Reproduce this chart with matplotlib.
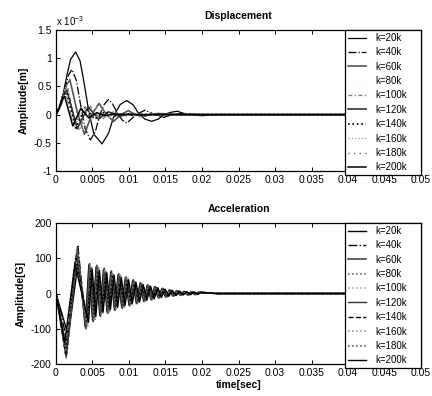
import numpy as np
import matplotlib
matplotlib.use("Agg")
import matplotlib.pyplot as plt
from matplotlib.ticker import FormatStrFormatter

plt.rcParams['font.family'] = ['Liberation Sans', 'DejaVu Sans']
plt.rcParams['axes.unicode_minus'] = False
plt.rcParams['mathtext.fontset'] = 'custom'
plt.rcParams['mathtext.rm'] = 'Liberation Sans'

labels = ["k=20k", "k=40k", "k=60k", "k=80k", "k=100k",
          "k=120k", "k=140k", "k=160k", "k=180k", "k=200k"]

# Displacement (time in s, amplitude in 1e-3 m)
t_d20 = [0, 0.0005, 0.0010, 0.0015, 0.0020, 0.0027, 0.0033, 0.0038, 0.0045, 0.0052, 0.0063,
         0.0072, 0.0080, 0.0088, 0.0097, 0.0106, 0.0114, 0.0122, 0.0131, 0.0140, 0.0148,
         0.0157, 0.0166, 0.018, 0.020, 0.022, 0.05]
d20 = [0, 0.12, 0.38, 0.70, 0.98, 1.11, 0.95, 0.60, 0.05, -0.35, -0.52,
       -0.33, 0.0, 0.18, 0.25, 0.17, 0.0, -0.08, -0.12, -0.08, 0.0,
       0.04, 0.06, 0.0, -0.02, 0.0, 0.0]
t_d40 = [0, 0.0006, 0.0012, 0.0017, 0.0022, 0.0028, 0.0034, 0.0040, 0.0047, 0.0054, 0.0060,
         0.0066, 0.0072, 0.0078, 0.0085, 0.0091, 0.0097, 0.0110, 0.0122, 0.0135, 0.0147,
         0.0160, 0.0172, 0.020, 0.05]
d40 = [0, 0.15, 0.45, 0.70, 0.80, 0.60, 0.15, -0.25, -0.45, -0.30, 0.0,
       0.18, 0.27, 0.18, 0.0, -0.10, -0.15, 0.0, 0.08, 0.0, -0.05,
       0.0, 0.02, 0.0, 0.0]
t_d60 = [0, 0.0008, 0.0014, 0.0019, 0.0029, 0.0039, 0.0049, 0.0059, 0.0069, 0.0079, 0.0089,
         0.0099, 0.0109, 0.0119, 0.0129, 0.0139, 0.017, 0.05]
d60 = [0, 0.20, 0.50, 0.62, 0.05, -0.35, 0.0, 0.20, 0.0, -0.12, 0.0,
       0.07, 0.0, -0.04, 0.0, 0.02, 0.0, 0.0]
t_d80 = [0, 0.0007, 0.0012, 0.0017, 0.0026, 0.0035, 0.0043, 0.0052, 0.0061, 0.0070, 0.0078,
         0.0087, 0.0096, 0.0105, 0.0113, 0.0122, 0.015, 0.05]
d80 = [0, 0.20, 0.45, 0.55, 0.0, -0.30, 0.0, 0.17, 0.0, -0.10, 0.0,
       0.06, 0.0, -0.035, 0.0, 0.02, 0.0, 0.0]
t_d100 = [0, 0.0006, 0.0011, 0.0016, 0.0024, 0.0032, 0.0040, 0.0047, 0.0055, 0.0063, 0.0071,
          0.0079, 0.0087, 0.0094, 0.0110, 0.014, 0.05]
d100 = [0, 0.18, 0.40, 0.48, 0.0, -0.28, 0.0, 0.15, 0.0, -0.09, 0.0,
        0.05, 0.0, -0.03, 0.015, 0.0, 0.0]
t_d120 = [0, 0.0005, 0.0010, 0.0015, 0.0029, 0.0044, 0.0058, 0.0072, 0.0087, 0.0101, 0.0115,
          0.013, 0.05]
d120 = [0, 0.15, 0.35, 0.43, -0.25, 0.14, -0.08, 0.05, -0.03, 0.015, -0.01, 0.0, 0.0]
t_d140 = [0, 0.0005, 0.0009, 0.0014, 0.0027, 0.0040, 0.0053, 0.0067, 0.0080, 0.0093, 0.0106,
          0.012, 0.05]
d140 = [0, 0.14, 0.33, 0.40, -0.24, 0.13, -0.08, 0.05, -0.03, 0.02, -0.01, 0.0, 0.0]
t_d160 = [0, 0.0004, 0.0009, 0.0013, 0.0025, 0.0038, 0.0050, 0.0063, 0.0075, 0.0087, 0.011, 0.05]
d160 = [0, 0.12, 0.30, 0.37, -0.22, 0.12, -0.07, 0.04, -0.025, 0.015, 0.0, 0.0]
t_d180 = [0, 0.0004, 0.0009, 0.0013, 0.0025, 0.0036, 0.0048, 0.0060, 0.0071, 0.0083, 0.010, 0.05]
d180 = [0, 0.11, 0.28, 0.34, -0.21, 0.12, -0.07, 0.04, -0.02, 0.01, 0.0, 0.0]
t_d200 = [0, 0.0004, 0.0008, 0.0012, 0.0023, 0.0034, 0.0045, 0.0056, 0.0067, 0.0078, 0.010, 0.05]
d200 = [0, 0.10, 0.26, 0.32, -0.20, 0.11, -0.06, 0.035, -0.02, 0.01, 0.0, 0.0]

# Acceleration (time in ms, amplitude in G)
t_a20 = [0, 1.7, 3.1, 4.0, 4.5, 5.0, 5.5, 6.0, 6.5, 7.0, 7.5, 8.0, 8.5, 9.0, 9.5, 10.0, 10.5,
         11.0, 11.5, 12.0, 12.5, 13.0, 13.5, 14.0, 14.5, 15.0, 15.5, 16.0, 16.5, 17.0, 17.5,
         18.0, 18.5, 19.0, 19.5, 22, 50]
a20 = [0, -120, 100, -95, 81, -76, 76, -62, 68, -53, 61, -46, 53, -40, 45, -33, 37, -28, 29,
       -22, 24, -17, 19, -12, 14, -10, 10, -7, 8, -5, 6, -4, 5, -3, 4, 0, 0]
t_a40 = [0, 1.6, 3.0, 4.05, 4.55, 5.05, 5.55, 6.05, 6.55, 7.05, 7.55, 8.05, 8.55, 9.05, 9.55,
         10.05, 10.55, 11.05, 11.55, 12.05, 12.55, 13.05, 13.55, 14.05, 14.55, 15.05, 15.55,
         16.05, 16.55, 17.05, 17.55, 18.05, 18.55, 19.05, 19.55, 22, 50]
a40 = [0, -140, 134, -80, 68, -64, 64, -52, 58, -45, 51, -38, 45, -34, 38, -28, 31, -23, 25,
       -18, 20, -14, 16, -10, 12, -8, 9, -6, 6, -4, 5, -3, 4, -2, 3, 0, 0]
t_a60 = [0, 1.5, 2.9, 4.1, 4.6, 5.1, 5.6, 6.1, 6.6, 7.1, 7.6, 8.1, 8.6, 9.1, 9.6, 10.1, 10.6,
         11.1, 11.6, 12.1, 12.6, 13.1, 13.6, 14.1, 14.6, 15.1, 15.6, 16.1, 16.6, 17.1, 17.6,
         18.1, 18.6, 19.1, 19.6, 22, 50]
a60 = [0, -160, 125, -100, 85, -80, 80, -65, 72, -56, 64, -48, 56, -42, 47, -35, 39, -29, 31,
       -23, 25, -18, 20, -13, 15, -10, 11, -7, 8, -5, 6, -4, 5, -3, 4, 0, 0]
t_a80 = [0, 1.5, 2.9, 4.15, 4.65, 5.15, 5.65, 6.15, 6.65, 7.15, 7.65, 8.15, 8.65, 9.15, 9.65,
         10.15, 10.65, 11.15, 11.65, 12.15, 12.65, 13.15, 13.65, 14.15, 14.65, 15.15, 15.65,
         16.15, 16.65, 17.15, 17.65, 18.15, 18.65, 19.15, 19.65, 22, 50]
a80 = [0, -175, 130, -70, 60, -56, 56, -46, 50, -39, 45, -34, 39, -29, 33, -25, 27, -20, 22,
       -16, 18, -13, 14, -9, 11, -7, 8, -5, 6, -4, 4, -3, 4, -2, 3, 0, 0]
t_a100 = [0, 1.4, 2.8, 4.2, 4.7, 5.2, 5.7, 6.2, 6.7, 7.2, 7.7, 8.2, 8.7, 9.2, 9.7, 10.2, 10.7,
          11.2, 11.7, 12.2, 12.7, 13.2, 13.7, 14.2, 14.7, 15.2, 15.7, 16.2, 16.7, 17.2, 17.7,
          18.2, 18.7, 19.2, 19.7, 22, 50]
a100 = [0, -186, 120, -90, 77, -72, 72, -59, 65, -50, 58, -43, 50, -38, 42, -32, 35, -26, 28,
        -21, 23, -16, 18, -12, 14, -9, 10, -6, 7, -5, 5, -4, 5, -3, 4, 0, 0]
t_a120 = [0, 1.4, 2.8, 4.25, 4.75, 5.25, 5.75, 6.25, 6.75, 7.25, 7.75, 8.25, 8.75, 9.25, 9.75,
          10.25, 10.75, 11.25, 11.75, 12.25, 12.75, 13.25, 13.75, 14.25, 14.75, 15.25, 15.75,
          16.25, 16.75, 17.25, 17.75, 18.25, 18.75, 19.25, 19.75, 22, 50]
a120 = [0, -180, 110, -85, 72, -68, 68, -55, 61, -48, 54, -41, 48, -36, 40, -30, 33, -25, 26,
        -20, 21, -15, 17, -11, 13, -9, 9, -6, 7, -4, 5, -3, 4, -3, 3, 0, 0]
t_a140 = [0, 1.3, 2.7, 4.3, 4.8, 5.3, 5.8, 6.3, 6.8, 7.3, 7.8, 8.3, 8.8, 9.3, 9.8, 10.3, 10.8,
          11.3, 11.8, 12.3, 12.8, 13.3, 13.8, 14.3, 14.8, 15.3, 15.8, 16.3, 16.8, 17.3, 17.8,
          18.3, 18.8, 19.3, 19.8, 22, 50]
a140 = [0, -170, 100, -75, 64, -60, 60, -49, 54, -42, 48, -36, 42, -32, 35, -26, 29, -22, 23,
        -17, 19, -14, 15, -10, 11, -8, 8, -5, 6, -4, 5, -3, 4, -2, 3, 0, 0]
t_a160 = [0, 1.3, 2.7, 4.35, 4.85, 5.35, 5.85, 6.35, 6.85, 7.35, 7.85, 8.35, 8.85, 9.35, 9.85,
          10.35, 10.85, 11.35, 11.85, 12.35, 12.85, 13.35, 13.85, 14.35, 14.85, 15.35, 15.85,
          16.35, 16.85, 17.35, 17.85, 18.35, 18.85, 19.35, 19.85, 22, 50]
a160 = [0, -160, 95, -92, 78, -74, 74, -60, 66, -52, 59, -44, 52, -39, 43, -32, 36, -27, 29,
        -21, 23, -17, 18, -12, 14, -9, 10, -6, 7, -5, 6, -4, 5, -3, 4, 0, 0]
t_a180 = [0, 1.2, 2.6, 4.4, 4.9, 5.4, 5.9, 6.4, 6.9, 7.4, 7.9, 8.4, 8.9, 9.4, 9.9, 10.4, 10.9,
          11.4, 11.9, 12.4, 12.9, 13.4, 13.9, 14.4, 14.9, 15.4, 15.9, 16.4, 16.9, 17.4, 17.9,
          18.4, 18.9, 19.4, 19.9, 22, 50]
a180 = [0, -150, 90, -78, 66, -62, 62, -51, 56, -44, 50, -37, 44, -33, 37, -27, 30, -23, 24,
        -18, 20, -14, 16, -10, 12, -8, 9, -5, 6, -4, 5, -3, 4, -2, 3, 0, 0]
t_a200 = [0, 1.2, 2.6, 4.45, 4.95, 5.45, 5.95, 6.45, 6.95, 7.45, 7.95, 8.45, 8.95, 9.45, 9.95,
          10.45, 10.95, 11.45, 11.95, 12.45, 12.95, 13.45, 13.95, 14.45, 14.95, 15.45, 15.95,
          16.45, 16.95, 17.45, 17.95, 18.45, 18.95, 19.45, 19.95, 22, 50]
a200 = [0, -140, 85, -82, 70, -66, 66, -53, 59, -46, 52, -39, 46, -34, 39, -29, 32, -24, 25,
        -19, 21, -15, 16, -11, 12, -8, 9, -6, 7, -4, 5, -3, 4, -2, 3, 0, 0]

disp_series = [(t_d20, d20), (t_d40, d40), (t_d60, d60), (t_d80, d80), (t_d100, d100),
               (t_d120, d120), (t_d140, d140), (t_d160, d160), (t_d180, d180), (t_d200, d200)]
acc_series = [(t_a20, a20), (t_a40, a40), (t_a60, a60), (t_a80, a80), (t_a100, a100),
              (t_a120, a120), (t_a140, a140), (t_a160, a160), (t_a180, a180), (t_a200, a200)]

# line styles (style, colour, width) - greyscale like the scanned original
disp_styles = [('-', 'black', 0.9), ('-.', 'black', 0.9), ('-', '#555555', 1.2),
               (':', '#f4f4f4', 0.7), ((0, (3, 2, 1, 2)), '#777777', 0.9), ('-', '#333333', 1.2),
               (':', 'black', 1.2), (':', '#999999', 0.9), ((0, (1, 3)), '#666666', 1.0),
               ('-', 'black', 1.1)]
acc_styles = [('-', 'black', 1.0), ('-.', 'black', 1.0), ('-', '#444444', 1.2),
              (':', '#555555', 1.1), (':', '#999999', 1.1), ('-', '#333333', 1.0),
              ('--', 'black', 1.0), (':', '#888888', 1.1), (':', '#444444', 1.1),
              ('-', 'black', 1.0)]


def style_axes(ax):
    ax.set_xlim(0, 0.05)
    ax.set_xticks([0, 0.005, 0.01, 0.015, 0.02, 0.025, 0.03, 0.035, 0.04, 0.045, 0.05])
    ax.xaxis.set_major_formatter(FormatStrFormatter('%g'))
    ax.yaxis.set_major_formatter(FormatStrFormatter('%g'))
    ax.tick_params(direction='in', top=True, right=True, length=3, width=0.7, labelsize=7.5,
                   pad=3)
    for sp in ax.spines.values():
        sp.set_linewidth(0.9)


def add_legend(ax):
    leg = ax.legend(loc='upper right', bbox_to_anchor=(0.792, 0.0, 0.208, 1.0), mode='expand',
                    borderaxespad=0, fontsize=7, labelspacing=0.45, handlelength=1.9,
                    handletextpad=0.9, borderpad=0.3, fancybox=False, framealpha=1)
    leg.get_frame().set_edgecolor('black')
    leg.get_frame().set_linewidth(0.9)


fig = plt.figure(figsize=(4.32, 3.96), dpi=100)
ax1 = fig.add_axes([0.1296, 0.5682, 0.845, 0.356])
ax2 = fig.add_axes([0.1296, 0.0808, 0.845, 0.356])

for (t, y), (ls, c, lw), lab in zip(disp_series, disp_styles, labels):
    ax1.plot(t, y, linestyle=ls, color=c, linewidth=lw, label=lab)
style_axes(ax1)
ax1.set_ylim(-1, 1.5)
ax1.set_yticks([-1, -0.5, 0, 0.5, 1, 1.5])
ax1.set_title("Displacement", fontsize=7.5, fontweight='bold', pad=8)
ax1.set_ylabel("Amplitude[m]", fontsize=7.5, fontweight='bold', labelpad=4)
ax1.text(0.0, 1.015, r"x 10$^{-3}$", transform=ax1.transAxes, fontsize=7, va='bottom')
add_legend(ax1)

for (t, y), (ls, c, lw), lab in zip(acc_series, acc_styles, labels):
    ax2.plot(np.array(t) / 1000.0, y, linestyle=ls, color=c, linewidth=lw, label=lab)
style_axes(ax2)
ax2.set_ylim(-200, 200)
ax2.set_yticks([-200, -100, 0, 100, 200])
ax2.set_title("Acceleration", fontsize=7.5, fontweight='bold', pad=8)
ax2.set_ylabel("Amplitude[G]", fontsize=7.5, fontweight='bold', labelpad=4)
ax2.set_xlabel("time[sec]", fontsize=7.5, fontweight='bold', labelpad=1)
add_legend(ax2)

fig.savefig("out.png", dpi=100)
